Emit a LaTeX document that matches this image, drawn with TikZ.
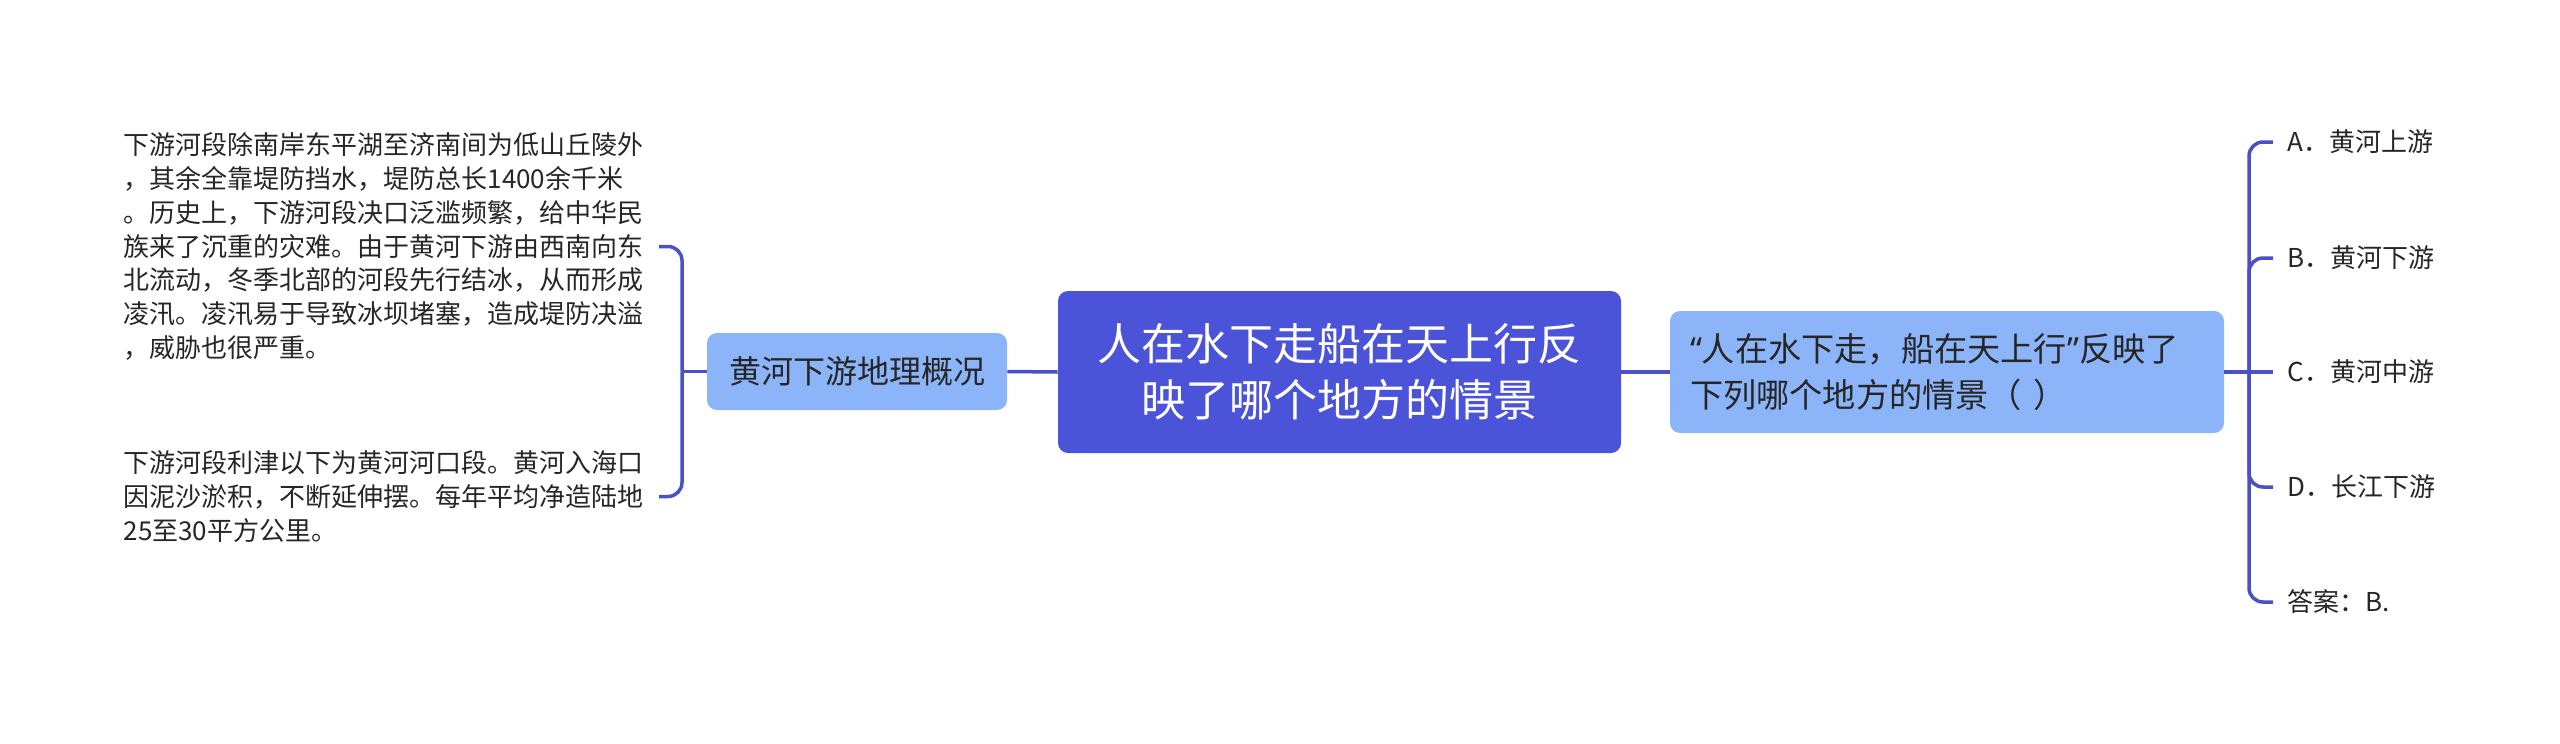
\documentclass[tikz,border=0pt]{standalone}
\usepackage{fontspec}
\setmainfont{Noto Sans CJK SC}
\newfontfamily\latq{Noto Sans}
\definecolor{mainc}{HTML}{4B53D8}
\definecolor{lightc}{HTML}{8CB5F9}
\definecolor{linec}{HTML}{4A50C8}
\definecolor{textc}{HTML}{262626}
\begin{document}
\begin{tikzpicture}[x=0.5pt,y=-0.5pt,
  conn/.style={draw=linec, line width=1.75pt, rounded corners=7pt},
  central/.style={fill=mainc, rounded corners=5pt, text=white, font=\fontsize{22pt}{28pt}\selectfont, align=center, minimum width=281.5pt, minimum height=81pt, inner sep=0pt},
  sub/.style={fill=lightc, rounded corners=5pt, text=textc, font=\fontsize{16pt}{23pt}\selectfont},
  leaf/.style={anchor=west, inner xsep=7pt, inner ysep=0pt, text=textc, font=\fontsize{13pt}{16pt}\selectfont},
  para/.style={anchor=east, inner xsep=7pt, inner ysep=0pt, text width=260.5pt, align=left, text=textc, font=\fontsize{13pt}{16.9pt}\selectfont}]
\useasboundingbox (0,0) rectangle (2560,744);
\node[central] (root) at (1339.5,372) {人在水下走船在天上行反\\映了哪个地方的情景};
\node[sub, minimum width=150pt, minimum height=38.5pt, inner sep=0pt] (geo) at (857,371.5) {黄河下游地理概况};
\node[sub, font=\fontsize{16.6pt}{23pt}\selectfont, text width=257pt, inner xsep=10pt, inner ysep=0pt, minimum height=61pt, align=left] (q) at (1947,372) {{\latq “}人在水下走，船在天上行{\latq ”}反映了\\下列哪个地方的情景（ ）};
\node[para] (p1) at (659,246.5) {下游河段除南岸东平湖至济南间为低山丘陵外\\，其余全靠堤防挡水，堤防总长1400余千米\\。历史上，下游河段决口泛滥频繁，给中华民\\族来了沉重的灾难。由于黄河下游由西南向东\\北流动，冬季北部的河段先行结冰，从而形成\\凌汛。凌汛易于导致冰坝堵塞，造成堤防决溢\\，威胁也很严重。};
\node[para] (p2) at (659,496.5) {下游河段利津以下为黄河河口段。黄河入海口\\因泥沙淤积，不断延伸摆。每年平均净造陆地\\25至30平方公里。};
\node[leaf] (a) at (2273,142) {A．黄河上游};
\node[leaf] (b) at (2273,258) {B．黄河下游};
\node[leaf] (c) at (2273,372) {C．黄河中游};
\node[leaf] (d) at (2273,487) {D．长江下游};
\node[leaf] (ans) at (2273,602) {答案：B.};
\coordinate (lj) at (682,371.5);
\coordinate (rj) at (2249,372);
\draw[conn] (root.west) -- (geo.east);
\draw[conn] (root.east) -- (q.west);
\draw[conn] (geo.west) -- (lj);
\draw[conn] (lj) |- (p1.east);
\draw[conn] (lj) |- (p2.east);
\draw[conn] (q.east) -- (c.west);
\draw[conn] (rj) |- (a.west);
\draw[conn] (rj) |- (b.west);
\draw[conn] (rj) |- (d.west);
\draw[conn] (rj) |- (ans.west);
\end{tikzpicture}
\end{document}
